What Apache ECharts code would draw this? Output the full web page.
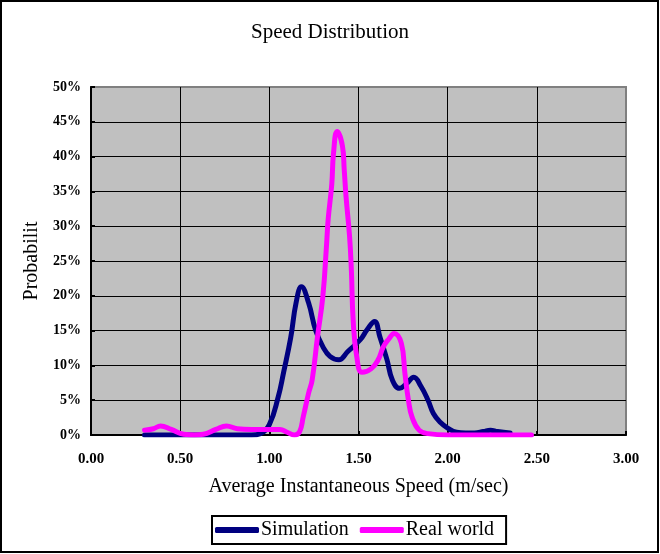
<!DOCTYPE html>
<html>
<head>
<meta charset="utf-8">
<script src="https://cdn.jsdelivr.net/npm/echarts@6/dist/echarts.min.js"></script>
<style>
html,body{margin:0;padding:0;background:#fff;}
#chart{width:660px;height:554px;}
</style>
</head>
<body>
<div id="chart"></div>
<script>
// Simulation series (speed m/sec, probability %)
var simX = [0.30,0.40,0.50,0.60,0.70,0.80,0.90,0.95,1.00,1.05,1.08,1.12,1.15,1.18,1.22,1.26,1.30,1.34,1.39,1.44,1.51,1.55,1.59,1.62,1.66,1.69,1.73,1.77,1.81,1.85,1.89,1.92,1.96,2.00,2.05,2.10,2.15,2.20,2.24,2.28,2.35];
var simY = [0,0,0,0,0,0,0,0.2,1.5,5.5,9,14,19,21.3,19,15,12.7,11.3,10.8,12,13.7,15.2,16.3,14.1,10.8,7.9,6.7,7.4,8.3,7,5,3.1,1.8,1,0.4,0.3,0.3,0.5,0.7,0.5,0.3];
// Real world series
var realX = [0.30,0.35,0.39,0.45,0.52,0.58,0.63,0.70,0.76,0.82,0.90,1.00,1.06,1.10,1.14,1.17,1.19,1.22,1.24,1.27,1.30,1.32,1.33,1.35,1.36,1.38,1.41,1.42,1.43,1.45,1.46,1.47,1.49,1.52,1.57,1.61,1.64,1.67,1.70,1.74,1.76,1.78,1.80,1.84,1.89,2.00,2.20,2.47];
var realY = [0.7,0.9,1.3,0.8,0.1,0,0.1,0.8,1.3,0.9,0.8,0.8,0.8,0.4,0,0.5,2.6,6,7.9,14.1,19.9,27,31,36,40.5,43.6,41.5,38.1,34.3,28.5,23.7,16.5,11.3,9,9.5,10.8,12.7,13.8,14.6,13.2,8.9,5,2.6,0.7,0.2,0,0,0];
var seriesNames = ['Simulation','Real world'];
var titleText = 'Speed Distribution';
var xName = 'Average Instantaneous Speed (m/sec)';
var yName = 'Probabilit';

function pairs(xs, ys){ return xs.map(function(x,i){ return [x, ys[i]]; }); }

var chart = echarts.init(document.getElementById('chart'));
var font = 'Liberation Serif';
chart.setOption({
  animation: false,
  backgroundColor: '#ffffff',
  title: {
    text: titleText, left: 'center', top: 17,
    textStyle: {fontFamily: font, fontSize: 21, fontWeight: 'normal', color: '#000'}
  },
  graphic: [{
    type: 'rect', shape: {x: 1, y: 1, width: 657, height: 551},
    style: {fill: 'none', stroke: '#000', lineWidth: 2}, z: 100
  }],
  legend: {
    left: 212, top: 516,
    data: seriesNames,
    icon: 'roundRect',
    itemWidth: 44, itemHeight: 6, itemGap: 11,
    padding: [4, 12, 4, 3],
    borderColor: '#000', borderWidth: 2,
    textStyle: {fontFamily: font, fontSize: 20, color: '#000', padding: [0,0,0,-3]}
  },
  grid: {
    left: 91, right: 34, top: 87, bottom: 119,
    show: true, backgroundColor: '#C0C0C0', borderColor: '#808080', borderWidth: 2
  },
  xAxis: {
    type: 'value', min: 0, max: 3, interval: 0.5,
    name: xName, nameLocation: 'middle', nameGap: 42,
    nameTextStyle: {fontFamily: font, fontSize: 20, color: '#000'},
    axisLine: {show: true, lineStyle: {color: '#000', width: 2}},
    axisTick: {show: true, inside: true, length: 4, lineStyle: {color: '#000', width: 2}},
    axisLabel: {margin: 17, fontFamily: font, fontSize: 15, fontWeight: 'bold', color: '#000',
      formatter: function(v){ return v.toFixed(2); }},
    splitLine: {show: true, showMinLine: false, showMaxLine: false, lineStyle: {color: '#000', width: 1}}
  },
  yAxis: {
    type: 'value', min: 0, max: 50, interval: 5,
    name: yName, nameLocation: 'middle', nameGap: 44, nameRotate: 90,
    nameTextStyle: {fontFamily: font, fontSize: 20, color: '#000'},
    axisLine: {show: true, lineStyle: {color: '#000', width: 2}},
    axisTick: {show: true, inside: true, length: 4, lineStyle: {color: '#000', width: 2}},
    axisLabel: {margin: 10, fontFamily: font, fontSize: 14, fontWeight: 'bold', color: '#000',
      formatter: '{value}%'},
    splitLine: {show: true, showMinLine: false, showMaxLine: false, lineStyle: {color: '#000', width: 1}}
  },
  series: [
    {
      name: seriesNames[0], type: 'line', data: pairs(simX, simY),
      symbol: 'none', showSymbol: false, smooth: 0.45,
      lineStyle: {color: '#000080', width: 5, join: 'round', cap: 'round'},
      itemStyle: {color: '#000080'}, z: 2
    },
    {
      name: seriesNames[1], type: 'line', data: pairs(realX, realY),
      symbol: 'none', showSymbol: false, smooth: 0.45,
      lineStyle: {color: '#FF00FF', width: 5, join: 'round', cap: 'round'},
      itemStyle: {color: '#FF00FF'}, z: 3
    }
  ]
});
</script>
</body>
</html>
